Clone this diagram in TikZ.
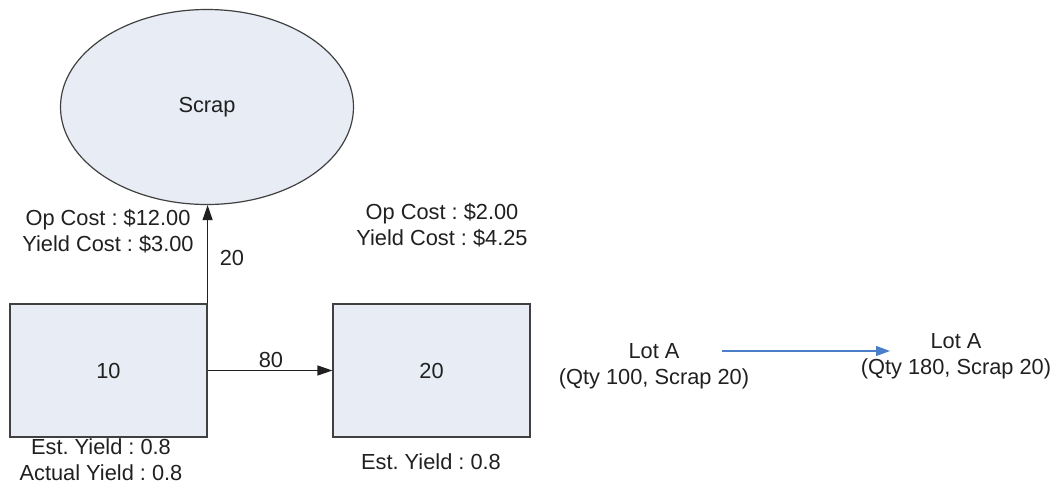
\documentclass[tikz,border=0pt]{standalone}
\usepackage{fontspec}
\setmainfont{Liberation Sans}
\usetikzlibrary{shapes.geometric,arrows.meta}
\definecolor{boxfill}{HTML}{E8ECF5}
\definecolor{edgegray}{HTML}{404040}
\definecolor{lotblue}{HTML}{4A7EC8}
\definecolor{txt}{HTML}{202020}
\frenchspacing
\begin{document}
\begin{tikzpicture}[x=1pt,y=-1pt,
  every node/.style={font=\fontsize{21.8}{26}\selectfont, text=txt},
  opbox/.style={draw=edgegray, fill=boxfill, line width=1.2pt, minimum width=197pt, minimum height=133pt, inner sep=0pt},
  scrapnode/.style={ellipse, draw=edgegray, fill=boxfill, line width=1.2pt, minimum width=293pt, minimum height=195pt, inner sep=0pt},
  lbl/.style={align=center, inner sep=0pt},
  flow/.style={-{Triangle[length=15pt,width=10pt]}, line width=1.2pt, draw=txt},
  lotflow/.style={-{Triangle[length=14pt,width=10pt]}, line width=1.2pt, draw=lotblue}]
\useasboundingbox (0,0) rectangle (1058,485);

\node[scrapnode] (scrap) at (207,107) {Scrap};
\node[opbox] (op10) at (108.5,370.5) {10};
\node[opbox] (op20) at (431.5,370.5) {20};

\draw[flow] (op10.north east) -- (op10.north east |- scrap.south);
\draw[flow] (op10.east) -- (op20.west);

\node[lbl] (q20) at (232,258) {20};
\node[lbl] (q80) at (271,360) {80};

\node[lbl] (cost10) at (108,231) {Op Cost : \$12.00\\Yield Cost : \$3.00};
\node[lbl] (cost20) at (442,225) {Op Cost : \$2.00\\Yield Cost : \$4.25};
\node[lbl] (yield10) at (101,460) {Est. Yield : 0.8\\Actual Yield : 0.8};
\node[lbl] (yield20) at (431,462) {Est. Yield : 0.8};

\node[lbl] (lot1) at (654,366) {Lot A\\(Qty 100, Scrap 20)};
\node[lbl] (lot2) at (956,356) {Lot A\\(Qty 180, Scrap 20)};
\coordinate (b1) at (722,351);
\coordinate (b2) at (890,351);
\draw[lotflow] (b1) -- (b2);
\end{tikzpicture}
\end{document}
